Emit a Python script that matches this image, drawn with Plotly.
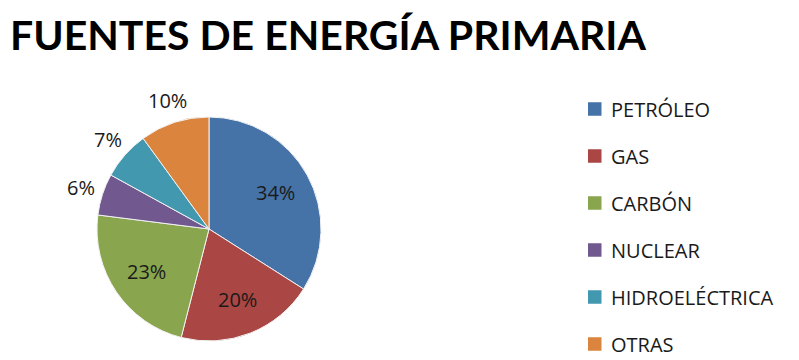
import math
import plotly.graph_objects as go

# Primary energy sources, share in percent
categories = ["PETRÓLEO", "GAS", "CARBÓN", "NUCLEAR", "HIDROELÉCTRICA", "OTRAS"]
shares = [34, 20, 23, 6, 7, 10]
colors = ["#4572A7", "#AA4643", "#89A54E", "#71588F", "#4198AF", "#DB843D"]
label_inside = [True, True, True, False, False, False]

W, H = 799, 360
cx, cy, r = 209, 229, 112  # pie centre and radius in pixels
FONT = "Open Sans, Lato, sans-serif"

fig = go.Figure(
    go.Pie(
        labels=categories,
        values=shares,
        sort=False,
        direction="clockwise",
        rotation=0,
        marker=dict(colors=colors, line=dict(color="#f2f2f2", width=1)),
        textinfo="none",
        domain=dict(x=[(cx - r) / W, (cx + r) / W], y=[(H - cy - r) / H, (H - cy + r) / H]),
        showlegend=False,
        hoverinfo="label+percent",
    )
)

annotations = []

# Percentage labels placed at each slice's mid-angle
total = sum(shares)
cum = 0
for v, inside in zip(shares, label_inside):
    mid = (cum + v / 2) / total * 2 * math.pi
    cum += v
    rad = r * 0.68 if inside else r + 23
    x = cx + rad * math.sin(mid)
    y = cy - rad * math.cos(mid)
    annotations.append(dict(
        text=f"{round(v / total * 100)}%", xref="paper", yref="paper",
        x=x / W, y=1 - y / H, xanchor="center", yanchor="middle",
        showarrow=False,
        font=dict(family=FONT, size=20, color="#1a1a1a"),
    ))

# Legend drawn as coloured squares with category names
shapes = []
legend_top, legend_step = 109, 47.0
for i, (name, col) in enumerate(zip(categories, colors)):
    y = legend_top + i * legend_step
    shapes.append(dict(
        type="rect", xref="paper", yref="paper",
        x0=588 / W, x1=601.5 / W, y0=1 - (y + 6.75) / H, y1=1 - (y - 6.75) / H,
        fillcolor=col, line=dict(width=0),
    ))
    annotations.append(dict(
        text=name, xref="paper", yref="paper",
        x=609 / W, y=1 - y / H, xanchor="left", yanchor="middle",
        showarrow=False,
        font=dict(family=FONT, size=20, color="#1a1a1a"),
    ))

annotations.append(dict(
    text="<b>FUENTES DE ENERGÍA PRIMARIA</b>",
    xref="paper", yref="paper", x=8 / W, y=1 - 35 / H,
    xanchor="left", yanchor="middle", showarrow=False,
    font=dict(family="Lato, Open Sans, sans-serif", size=41, color="#000000"),
))

fig.update_layout(
    width=W, height=H,
    margin=dict(l=0, r=0, t=0, b=0),
    paper_bgcolor="white",
    plot_bgcolor="white",
    shapes=shapes,
    annotations=annotations,
)

fig.write_html("out.html")
